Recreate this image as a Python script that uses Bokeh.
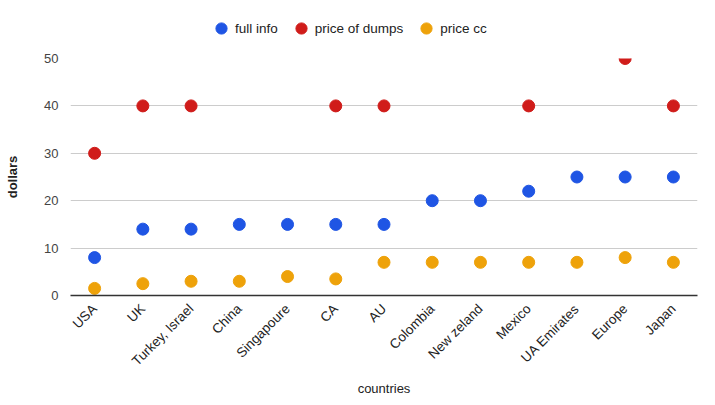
import math
from bokeh.plotting import figure
from bokeh.layouts import column
from bokeh.models import ColumnDataSource, Range1d, Legend, LegendItem, FixedTicker
from bokeh.embed import file_html
from bokeh.resources import INLINE

countries = ["USA", "UK", "Turkey, Israel", "China", "Singapoure", "CA", "AU",
             "Colombia", "New zeland", "Mexico", "UA Emirates", "Europe", "Japan"]
full_info = [8, 14, 14, 15, 15, 15, 15, 20, 20, 22, 25, 25, 25]
price_of_dumps = [30, 40, 40, None, None, 40, 40, None, None, 40, None, 50, 40]
price_cc = [1.5, 2.5, 3, 3, 4, 3.5, 7, 7, 7, 7, 7, 8, 7]
series_names = ["full info", "price of dumps", "price cc"]
y_ticks = [0, 10, 20, 30, 40, 50]

FONT = "Liberation Sans"
COLORS = ["#1f55e4", "#d01c1a", "#eea20a"]

# legend strip
lg = figure(width=715, height=50, x_range=Range1d(0, 1), y_range=Range1d(0, 1),
            output_backend="svg", toolbar_location=None,
            min_border_left=0, min_border_right=0, min_border_top=0, min_border_bottom=0)
lg.axis.visible = False
lg.grid.visible = False
lg.outline_line_color = None
items = []
for name, col in zip(series_names, COLORS):
    r = lg.scatter(x=[-5], y=[-5], size=12, fill_color=col, line_color=col)
    items.append(LegendItem(label=name, renderers=[r]))
legend = Legend(items=items, orientation="horizontal", location=(137, 8),
                label_text_font=FONT, label_text_font_size="13.5px", label_text_color="#222222",
                glyph_width=28, glyph_height=28, spacing=9, padding=0, margin=0,
                label_standoff=0, border_line_color=None, background_fill_alpha=0)
lg.add_layout(legend, "center")

# main plot
p = figure(width=715, height=355, x_range=countries, y_range=Range1d(0, 50),
           output_backend="svg", toolbar_location=None,
           min_border_left=70, min_border_right=18, min_border_top=8, min_border_bottom=110)
p.outline_line_color = None

def pts(vals):
    xs = [c for c, v in zip(countries, vals) if v is not None]
    ys = [v for v in vals if v is not None]
    return ColumnDataSource(dict(x=xs, y=ys))

for vals, col in zip([full_info, price_of_dumps, price_cc], COLORS):
    p.scatter("x", "y", source=pts(vals), size=12, fill_color=col, line_color=col)

p.xgrid.grid_line_color = None
p.ygrid.grid_line_color = "#cccccc"
p.ygrid.ticker = FixedTicker(ticks=y_ticks)

p.yaxis.ticker = FixedTicker(ticks=y_ticks)
p.yaxis.axis_line_color = None
p.yaxis.major_tick_line_color = None
p.yaxis.minor_tick_line_color = None
p.yaxis.major_label_text_font = FONT
p.yaxis.major_label_text_font_size = "13px"
p.yaxis.major_label_text_color = "#444444"
p.yaxis.major_label_standoff = 6
p.yaxis.axis_label = "dollars"
p.yaxis.axis_label_text_font = FONT
p.yaxis.axis_label_text_font_size = "13px"
p.yaxis.axis_label_text_font_style = "bold"
p.yaxis.axis_label_text_color = "#222222"
p.yaxis.axis_label_standoff = 21

p.xaxis.axis_line_color = "#333333"
p.xaxis.axis_line_width = 1.5
p.xaxis.major_tick_line_color = None
p.xaxis.minor_tick_line_color = None
p.xaxis.major_label_orientation = math.pi / 4
p.xaxis.major_label_text_font = FONT
p.xaxis.major_label_text_font_size = "13.5px"
p.xaxis.major_label_text_color = "#222222"
p.xaxis.major_label_standoff = 5
p.xaxis.axis_label = "countries"
p.xaxis.axis_label_text_font = FONT
p.xaxis.axis_label_text_font_size = "13px"
p.xaxis.axis_label_text_font_style = "normal"
p.xaxis.axis_label_text_color = "#222222"
p.xaxis.axis_label_standoff = 4

layout = column(lg, p, spacing=0)
open("out.html", "w").write(file_html(layout, INLINE))
